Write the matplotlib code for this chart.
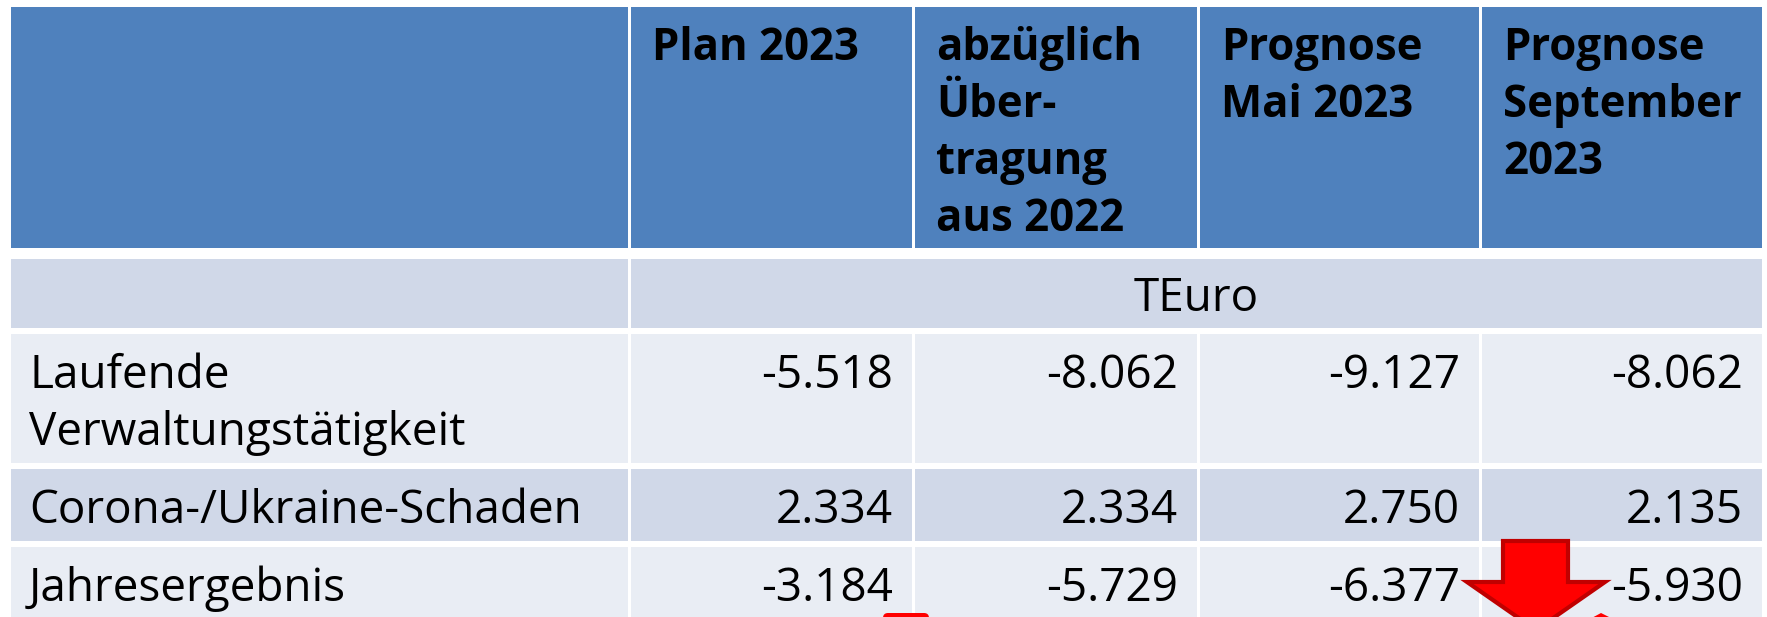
import matplotlib.pyplot as plt
from matplotlib.patches import Rectangle, Polygon, FancyBboxPatch

# Tabelleninhalt
kopf = [
    ["Plan 2023"],
    ["abzüglich", "Über-", "tragung", "aus 2022"],
    ["Prognose", "Mai 2023"],
    ["Prognose", "September", "2023"],
]
einheit = "TEuro"
zeilen = [["Laufende", "Verwaltungstätigkeit"], ["Corona-/Ukraine-Schaden"], ["Jahresergebnis"]]
laufende = [-5518, -8062, -9127, -8062]
corona = [2334, 2334, 2750, 2135]
jahresergebnis = [-3184, -5729, -6377, -5930]
werte = [laufende, corona, jahresergebnis]


def deutsch(zahl):  # Tausenderpunkt statt Komma
    return f"{zahl:,}".replace(",", ".")


# Layout in Pixeln
B, H = 1767, 617
spalten = [9, 629, 913, 1198, 1480, 1763]
kopf_y = (5, 249)
einheit_y = (257, 329)
zeilen_y = [(332, 464), (467, 542), (545, 625)]
blau = "#4F81BD"
dunkel = "#D0D8E8"
hell = "#E9EDF4"
zeilen_farben = [hell, dunkel, hell]
lz = 57  # Zeilenabstand
schrift = "Open Sans"
gr = 33
gr_kopf = 31.5

fig = plt.figure(figsize=(B / 100, H / 100), dpi=100)
ax = fig.add_axes([0, 0, 1, 1])
ax.set_xlim(0, B)
ax.set_ylim(H, 0)
ax.axis("off")

g = 1.5  # halbe Breite der weissen Trennlinien


def zelle(x0, x1, y0, y1, farbe):
    ax.add_patch(Rectangle((x0 + g, y0 + g), x1 - x0 - 2 * g, y1 - y0 - 2 * g,
                           facecolor=farbe, edgecolor="none"))


# Kopfzeile
for i in range(5):
    zelle(spalten[i], spalten[i + 1], kopf_y[0], kopf_y[1], blau)
for i, zeilen_text in enumerate(kopf):
    for j, t in enumerate(zeilen_text):
        ax.text(spalten[i + 1] + 23, 60 + j * lz, t, fontsize=gr_kopf, fontweight="bold",
                family=schrift, ha="left", va="baseline", color="black")

# Einheitenzeile
zelle(spalten[0], spalten[1], einheit_y[0], einheit_y[1], dunkel)
zelle(spalten[1], spalten[5], einheit_y[0], einheit_y[1], dunkel)
ax.text((spalten[1] + spalten[5]) / 2, 311, einheit, fontsize=gr, family=schrift,
        ha="center", va="baseline")

# Datenzeilen
for r, (y0, y1) in enumerate(zeilen_y):
    for i in range(5):
        zelle(spalten[i], spalten[i + 1], y0, y1, zeilen_farben[r])
    basis = y0 + 56
    for j, t in enumerate(zeilen[r]):
        ax.text(spalten[0] + 20, basis + j * lz, t, fontsize=gr, family=schrift,
                ha="left", va="baseline")
    for i, w in enumerate(werte[r]):
        ax.text(spalten[i + 2] - 20, basis, deutsch(w), fontsize=gr, family=schrift,
                ha="right", va="baseline")

# rote Pfeile
ax.add_patch(Polygon([(1503, 541), (1568, 541), (1568, 582), (1605, 582), (1536, 630),
                      (1467, 582), (1503, 582)], closed=True, facecolor="#FF0000",
                     edgecolor="#C00000", linewidth=3, zorder=5))
ax.add_patch(FancyBboxPatch((886, 616), 40, 10, boxstyle="round,pad=3,rounding_size=5",
                            facecolor="#FF0000", edgecolor="none", zorder=5))
ax.add_patch(Polygon([(1588, 620), (1601, 613), (1615, 620)], closed=True,
                     facecolor="#FF0000", edgecolor="none", zorder=5))

fig.savefig("out.png", dpi=100)
